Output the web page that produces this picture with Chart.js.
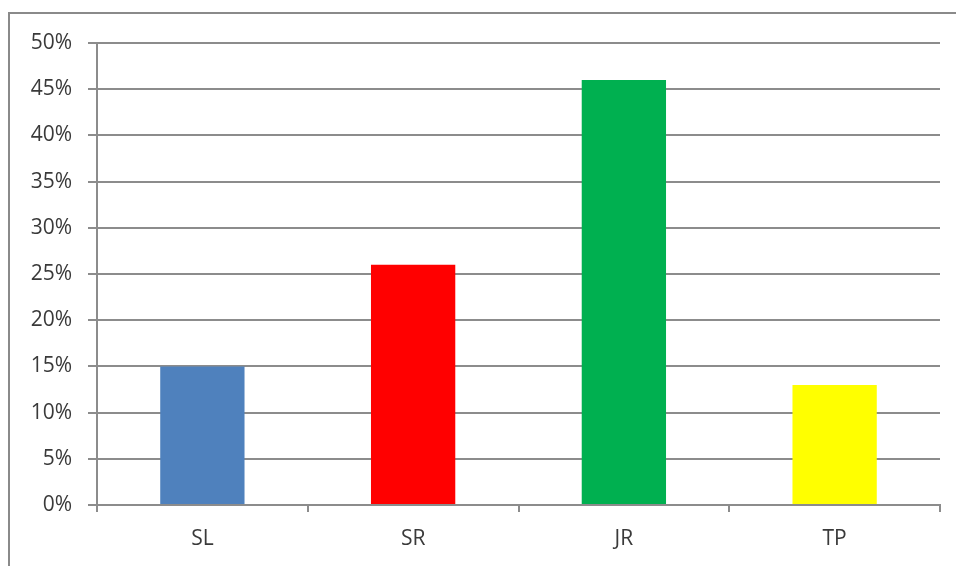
<!DOCTYPE html>
<html>
<head>
<meta charset="utf-8">
<script src="https://cdn.jsdelivr.net/npm/chart.js@4"></script>
<style>
    html, body { margin: 0; padding: 0; background: #fff; overflow: hidden; }
    #wrap { position: relative; width: 956px; height: 566px; }
    #frame {
        position: absolute; left: 8px; top: 12px; width: 1000px; height: 600px;
        border-top: 2px solid #8a8a8a; border-left: 2px solid #8a8a8a;
        pointer-events: none;
    }
</style>
</head>
<body>
<div id="wrap">
    <canvas id="chartShare" width="956" height="566"></canvas>
    <div id="frame"></div>
</div>
<script>
const categories = ["SL", "SR", "JR", "TP"];
const shareValues = [15, 26, 46, 13];
const barColors = ["#4F81BD", "#FF0000", "#00B050", "#FFFF00"];
const yTicks = [0, 5, 10, 15, 20, 25, 30, 35, 40, 45, 50];

const gridColor = "#8c8c8c";
const labelFont = { family: "'Open Sans', 'Liberation Sans', sans-serif", size: 21 };

const chartShare = new Chart(document.getElementById("chartShare"), {
    type: "bar",
    data: {
        labels: categories,
        datasets: [{
            data: shareValues,
            backgroundColor: barColors,
            borderWidth: 0,
            categoryPercentage: 1,
            barPercentage: 0.4,
        }]
    },
    options: {
        responsive: false,
        animation: false,
        layout: { padding: { top: 43, right: 16, bottom: 0, left: 0 } },
        plugins: {
            legend: { display: false },
            tooltip: { enabled: false },
        },
        scales: {
            x: {
                grid: {
                    offset: true,
                    drawOnChartArea: false,
                    drawTicks: true,
                    tickLength: 7,
                    color: gridColor,
                    lineWidth: 2,
                },
                border: { display: true, color: gridColor, width: 2 },
                ticks: { color: "#3a3a3a", font: labelFont, padding: 14 },
                afterFit: scale => { scale.height = 61; },
            },
            y: {
                min: 0,
                max: 50,
                afterBuildTicks: scale => {
                    scale.ticks = yTicks.map(v => ({ value: v }));
                },
                grid: {
                    color: gridColor,
                    lineWidth: 2,
                    tickLength: 9,
                },
                border: { display: true, color: gridColor, width: 2 },
                ticks: {
                    color: "#3a3a3a",
                    font: labelFont,
                    padding: 16,
                    callback: v => v + "%",
                },
                afterFit: scale => { scale.width = 97; },
            }
        }
    }
});
</script>
</body>
</html>
